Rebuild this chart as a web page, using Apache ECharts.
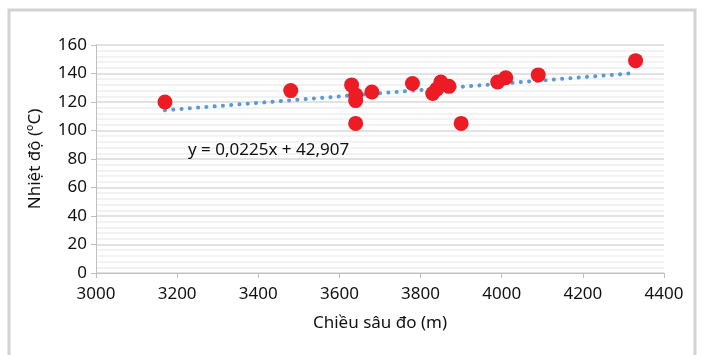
<!DOCTYPE html>
<html>
<head>
<meta charset="utf-8">
<script src="https://cdn.jsdelivr.net/npm/echarts@6/dist/echarts.min.js"></script>
<style>
  html, body { margin: 0; padding: 0; background: #fff; }
  #chart { width: 702px; height: 355px; }
</style>
</head>
<body>
<div id="chart"></div>
<script>
// depth (m) and temperature (ºC)
const depths = [3170, 3480, 3630, 3640, 3640, 3640, 3680, 3780, 3830, 3840, 3850, 3870, 3900, 3990, 4010, 4090, 4330]
const temps = [120, 128, 132, 125, 121, 105, 127, 133, 126, 129, 134, 131, 105, 134, 137, 139, 149]

// trend line as printed on the chart
const slope = 0.0225
const intercept = 42.907
const trendLabel = 'y = 0,0225x + 42,907'

const xTicks = { min: 3000, max: 4400, interval: 200 }
const yTicks = { min: 0, max: 160, interval: 20 }

const font = 'Noto Sans'
const points = depths.map((d, i) => [d, temps[i]])
const x0 = Math.min(...depths)
const x1 = Math.max(...depths)
const trend = [[x0, slope * x0 + intercept], [x1, slope * x1 + intercept]]

const chart = echarts.init(document.getElementById('chart'))
chart.setOption({
  animation: false,
  textStyle: { fontFamily: font },
  grid: { left: 96, right: 38, top: 45, bottom: 82 },
  graphic: [
    {
      type: 'rect',
      shape: { x: 9, y: 10, width: 686, height: 370 },
      style: { fill: 'none', stroke: '#d3d3d3', lineWidth: 3 },
      silent: true
    },
    {
      type: 'text',
      left: 188,
      top: 142,
      z: 10,
      style: { text: trendLabel, fontFamily: font, fontSize: 17, fill: '#111' }
    }
  ],
  xAxis: {
    type: 'value',
    min: xTicks.min,
    max: xTicks.max,
    interval: xTicks.interval,
    name: 'Chiều sâu đo (m)',
    nameLocation: 'middle',
    nameGap: 42,
    nameTextStyle: { fontSize: 17, color: '#111', fontFamily: font },
    axisLine: { lineStyle: { color: '#bfbfbf', width: 1 } },
    axisTick: { show: true, length: 5, lineStyle: { color: '#bfbfbf' } },
    axisLabel: { fontSize: 17, color: '#111', margin: 13, formatter: v => String(v) },
    splitLine: { show: false }
  },
  yAxis: {
    type: 'value',
    min: yTicks.min,
    max: yTicks.max,
    interval: yTicks.interval,
    name: 'Nhiệt độ (ºC)',
    nameLocation: 'middle',
    nameGap: 52,
    nameTextStyle: { fontSize: 17, color: '#111', fontFamily: font },
    axisLine: { show: true, lineStyle: { color: '#bfbfbf', width: 1 } },
    axisTick: { show: true, length: 5, lineStyle: { color: '#bfbfbf' } },
    axisLabel: { fontSize: 17, color: '#111', margin: 9 },
    splitLine: { show: true, lineStyle: { color: '#d9d9d9', width: 1.5 } },
    minorTick: { show: false, splitNumber: 5 },
    minorSplitLine: { show: true, lineStyle: { color: '#eeeeee', width: 1.5 } }
  },
  series: [
    {
      type: 'line',
      data: trend,
      symbol: 'none',
      lineStyle: { color: '#5b9bd5', width: 4, type: [0.1, 8.2], cap: 'round' },
      z: 3
    },
    {
      type: 'scatter',
      data: points,
      symbolSize: 15,
      itemStyle: { color: '#ed1c24', opacity: 1 },
      z: 4
    }
  ]
})
</script>
</body>
</html>
